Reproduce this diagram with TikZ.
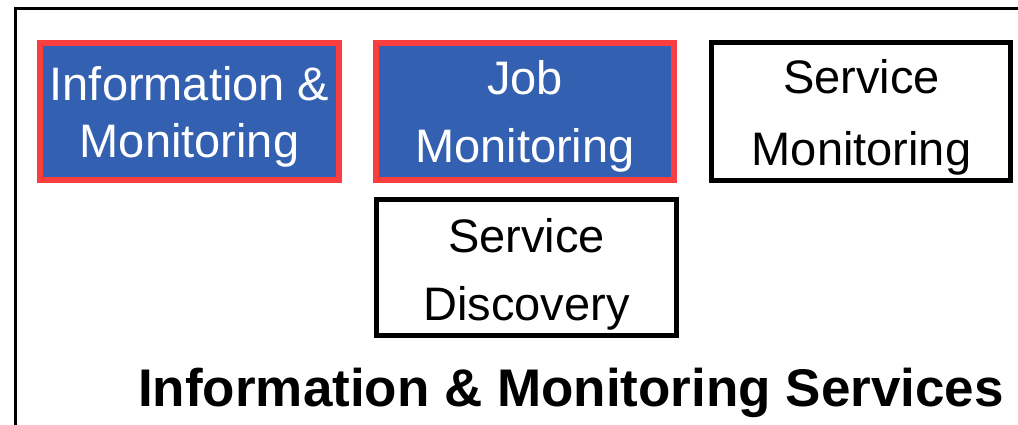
\documentclass[tikz,border=0pt]{standalone}
\usepackage{fontspec}
\setmainfont{Liberation Sans}
\definecolor{boxblue}{RGB}{52,96,177}
\definecolor{boxred}{RGB}{250,62,62}
\tikzset{
  px/.style={x=1pt,y=-1pt},
  redbox/.style={draw=boxred,line width=6pt,fill=boxblue,inner sep=0pt,
    minimum width=299pt,minimum height=137pt},
  blackbox/.style={draw=black,line width=5pt,fill=white,inner sep=0pt,
    minimum width=299pt,minimum height=137pt},
  boxtext/.style={anchor=base,inner sep=0pt,font=\fontsize{47}{56}\selectfont},
  whitetext/.style={boxtext,text=white},
  titletext/.style={anchor=base,inner sep=0pt,font=\bfseries\fontsize{53}{64}\selectfont},
}
\begin{document}
\begin{tikzpicture}[px]
\useasboundingbox (0,0) rectangle (1018,424);
% outer frame (only top and left edges visible)
\coordinate (frameBL) at (15.5,430);
\coordinate (frameTL) at (15.5,8.7);
\coordinate (frameTR) at (1030,8.7);
\draw[line width=2.5pt] (frameBL) -- (frameTL) -- (frameTR);
% boxes
\node[redbox] (im) at (189.5,111.5) {};
\node[redbox,minimum width=298pt] (jm) at (525,111.5) {};
\node[blackbox,minimum height=138pt] (sm) at (861,111.5) {};
\node[blackbox,minimum width=300pt,minimum height=136pt] (sd) at (526.5,267.5) {};
% texts
\node[whitetext] (im1) at (189.5,100) {Information \&};
\node[whitetext] (im2) at (189.5,157) {Monitoring};
\node[whitetext] (jm1) at (525,94) {Job};
\node[whitetext] (jm2) at (525,162) {Monitoring};
\node[boxtext] (sm1) at (861.5,93) {Service};
\node[boxtext] (sm2) at (861.5,165) {Monitoring};
\node[boxtext] (sd1) at (526.5,252) {Service};
\node[boxtext] (sd2) at (526.5,320) {Discovery};
\node[titletext] (title) at (571,406) {Information \& Monitoring Services};
\end{tikzpicture}
\end{document}
